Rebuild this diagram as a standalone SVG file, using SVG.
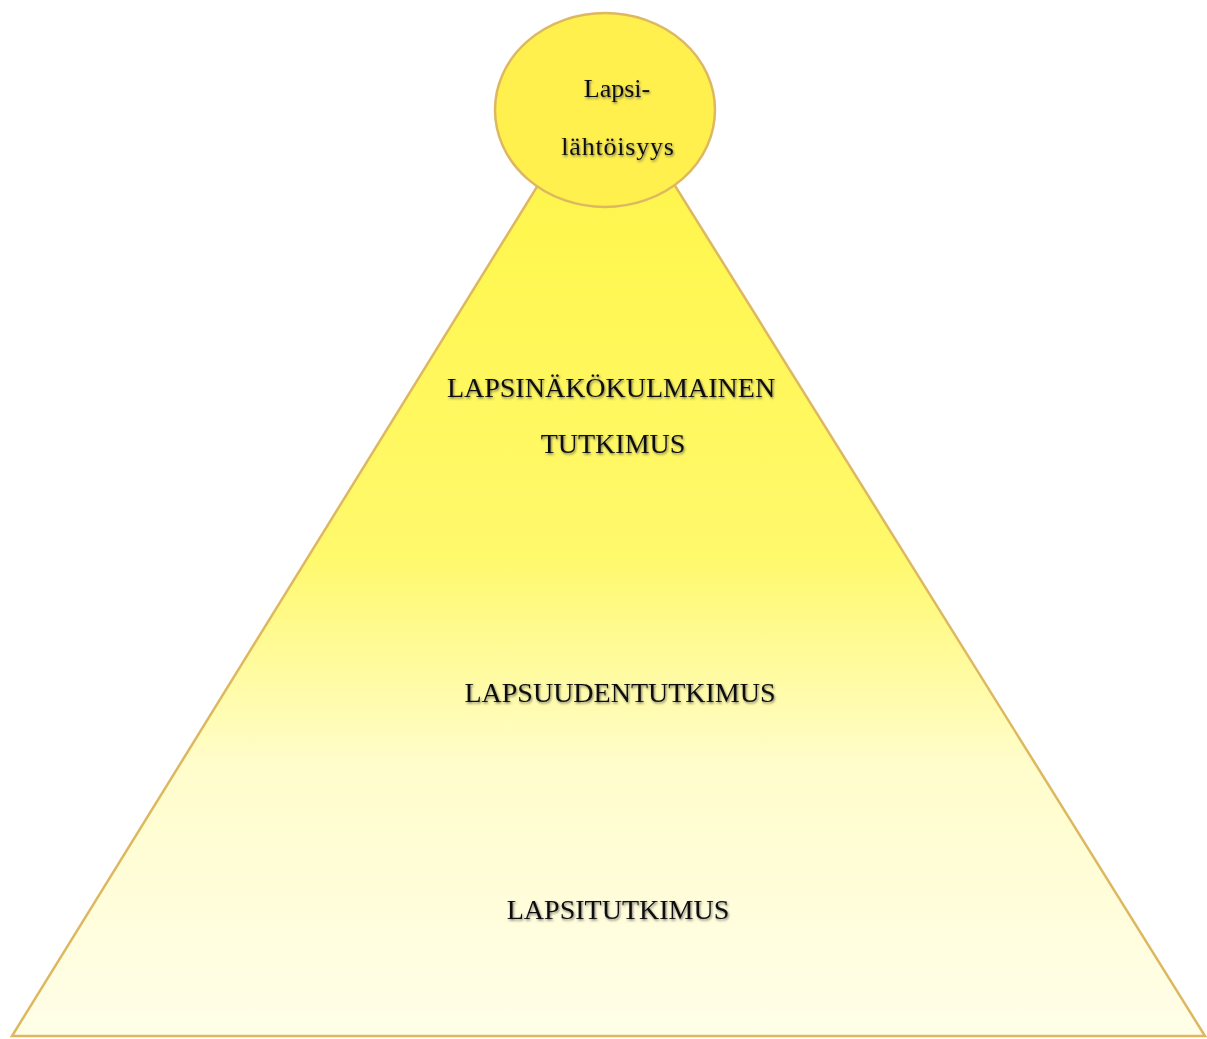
<svg xmlns="http://www.w3.org/2000/svg" width="1207" height="1039" viewBox="0 0 1207 1039">
<style>
.lbl{font-family:"Liberation Serif","Times New Roman",serif;fill:#111;text-anchor:middle;filter:url(#sh)}
.big{font-size:28px}
.small{font-size:26px}
.shape{stroke:#DDB860;stroke-width:2.5}
</style>
<defs>
<linearGradient id="tri" x1="0" y1="0" x2="0" y2="1">
<stop offset="0" stop-color="#FFF24A"/>
<stop offset="0.2" stop-color="#FFF752"/>
<stop offset="0.5" stop-color="#FFF96C"/>
<stop offset="0.72" stop-color="#FFFDCC"/>
<stop offset="1" stop-color="#FFFEE8"/>
</linearGradient>
<filter id="sh" x="-10%" y="-30%" width="120%" height="160%">
<feDropShadow dx="1" dy="1.5" stdDeviation="1.3" flood-color="#444" flood-opacity="0.7"/>
</filter>
</defs>
<rect width="1207" height="1039" fill="#ffffff"/>
<g id="pyramid">
<polygon class="shape" points="606,75 1205,1036 12,1036" fill="url(#tri)"/>
<text class="lbl big" x="611" y="397">LAPSINÄKÖKULMAINEN</text>
<text class="lbl big" x="613" y="453">TUTKIMUS</text>
<text class="lbl big" x="620" y="702">LAPSUUDENTUTKIMUS</text>
<text class="lbl big" x="618" y="919">LAPSITUTKIMUS</text>
</g>
<g id="top">
<ellipse class="shape" cx="605" cy="110" rx="110" ry="97" fill="#FFF04E"/>
<text class="lbl small" x="617" y="97">Lapsi-</text>
<text class="lbl small" x="618" y="155" letter-spacing="0.8">lähtöisyys</text>
</g>
</svg>
